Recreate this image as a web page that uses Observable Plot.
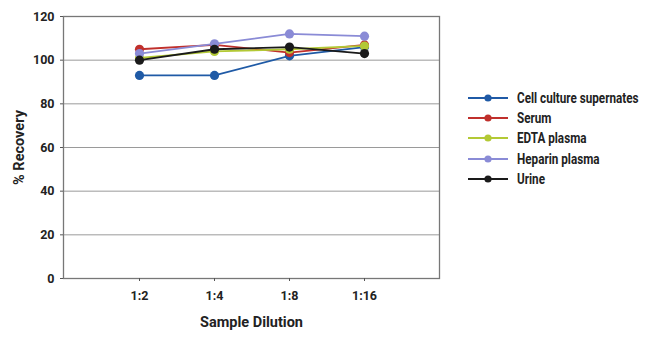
<!DOCTYPE html>
<html>
<head>
<meta charset="utf-8">
<script src="https://cdn.jsdelivr.net/npm/d3@7"></script>
<script src="https://cdn.jsdelivr.net/npm/@observablehq/plot@0.6"></script>
<style>
  html, body { margin: 0; padding: 0; background: #fff; }
  #wrap { position: relative; width: 650px; height: 344px; font-family: Roboto, sans-serif; font-weight: bold; color: #222; }
  #legend { position: absolute; left: 468px; top: 88px; }
  .item { display: flex; align-items: center; height: 20.2px; font-size: 15.2px; white-space: nowrap; }
  .item svg { margin-right: 9px; flex: none; }
  .item span { display: inline-block; transform: scaleX(0.77); transform-origin: left center; }
</style>
</head>
<body>
<div id="wrap"><div id="chart"></div><div id="legend"></div></div>
<script>
const dilutions = ["1:2", "1:4", "1:8", "1:16"];
const seriesNames = ["Cell culture supernates", "Serum", "EDTA plasma", "Heparin plasma", "Urine"];
const seriesColors = ["#1f5aa6", "#c0302c", "#b3c935", "#8a8bd6", "#1a1a1a"];
const cellCulture = [93, 93, 102, 106];
const serum = [105, 107, 103.5, 107];
const edta = [101, 104, 105, 106.5];
const heparin = [103, 107.5, 112, 111];
const urine = [100, 105, 106, 103];
const yTicks = [0, 20, 40, 60, 80, 100, 120];

const seriesValues = [cellCulture, serum, edta, heparin, urine];
const rows = [];
seriesNames.forEach((name, i) => {
  dilutions.forEach((d, j) => rows.push({series: name, dilution: d, value: seriesValues[i][j]}));
});

const chart = Plot.plot({
  width: 650,
  height: 344,
  marginLeft: 63,
  marginRight: 211,
  marginTop: 16,
  marginBottom: 66,
  style: {fontFamily: "Roboto, sans-serif", fontWeight: "bold", fontSize: "12.5px", color: "#222", background: "#fff"},
  x: {type: "point", domain: dilutions, padding: 1},
  y: {domain: [0, 120]},
  color: {domain: seriesNames, range: seriesColors},
  marks: [
    Plot.gridY(yTicks.filter(t => t > 0 && t < 120), {stroke: "#9a9a9a", strokeOpacity: 1}),
    Plot.frame({stroke: "#777", strokeWidth: 1.3}),
    Plot.axisY(yTicks, {tickSize: 3, tickPadding: 6, stroke: "#555", label: "% Recovery", labelAnchor: "center", labelArrow: false, labelOffset: 50}),
    Plot.axisX({tickSize: 3, tickPadding: 10, stroke: "#555", label: "Sample Dilution", labelAnchor: "center", labelArrow: false, labelOffset: 48}),
    Plot.lineY(rows, {x: "dilution", y: "value", z: "series", stroke: "series", strokeWidth: 1.8}),
    Plot.dot(rows, {x: "dilution", y: "value", fill: "series", r: 4.6})
  ]
});
chart.querySelectorAll('[aria-label="y-axis label"] text, [aria-label="x-axis label"] text').forEach(t => t.setAttribute("font-size", "14.5"));
document.getElementById("chart").appendChild(chart);

const legend = document.getElementById("legend");
seriesNames.forEach((name, i) => {
  const item = document.createElement("div");
  item.className = "item";
  item.innerHTML = `<svg width="40" height="10"><line x1="0" y1="5" x2="40" y2="5" stroke="${seriesColors[i]}" stroke-width="1.8"/><circle cx="20" cy="5" r="3.6" fill="${seriesColors[i]}"/></svg><span>${name}</span>`;
  legend.appendChild(item);
});
</script>
</body>
</html>
